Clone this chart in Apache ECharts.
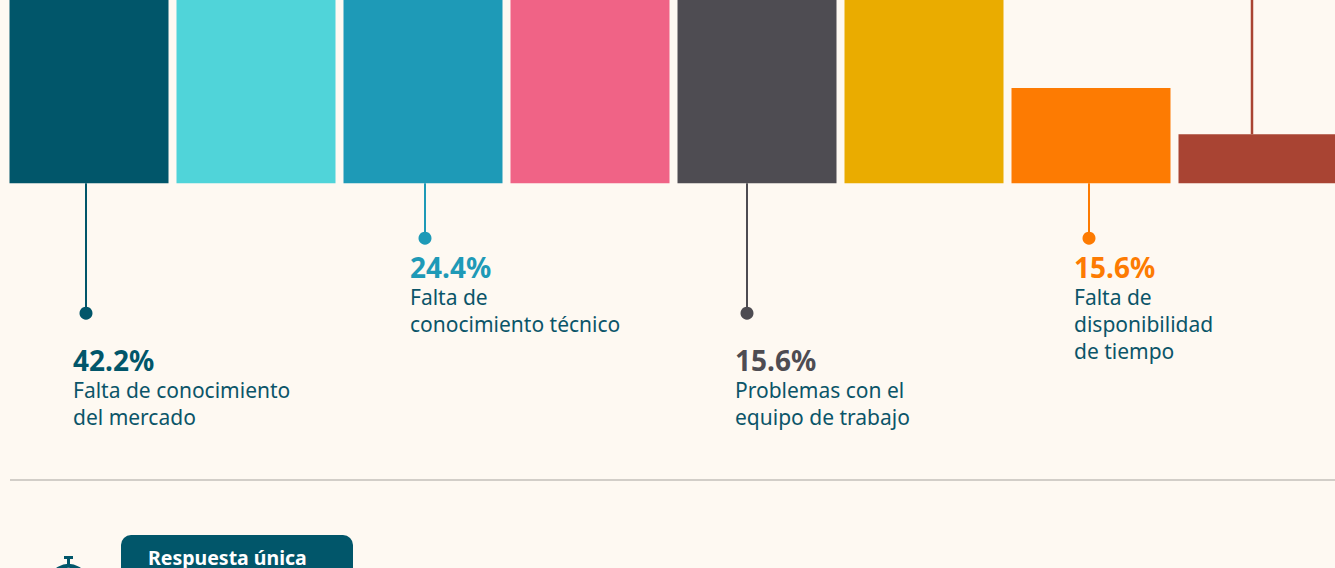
<!DOCTYPE html>
<html>
<head>
<meta charset="utf-8">
<style>
  html, body { margin: 0; padding: 0; background: #fef9f2; }
  #chart { width: 1335px; height: 568px; }
</style>
<script src="https://cdn.jsdelivr.net/npm/echarts@6/dist/echarts.min.js"></script>
</head>
<body>
<div id="chart"></div>
<script>
// datos
const categories = [
  "Falta de conocimiento del mercado",
  "Otra razón 1",
  "Falta de conocimiento técnico",
  "Otra razón 2",
  "Problemas con el equipo de trabajo",
  "Otra razón 3",
  "Falta de disponibilidad de tiempo",
  "Otra razón 4",
];
// alturas de barra: las seis primeras salen por arriba del recorte
const barValues = [42.2, 40, 38, 36, 34, 32, 15.6, 8];
const percentLabels = ["42.2%", null, "24.4%", null, "15.6%", null, "15.6%", null];
const descLabels = [
  "Falta de conocimiento\ndel mercado",
  null,
  "Falta de\nconocimiento técnico",
  null,
  "Problemas con el\nequipo de trabajo",
  null,
  "Falta de\ndisponibilidad\nde tiempo",
  null,
];

const colors = ["#01566a", "#50d4d9", "#1e9ab7", "#f06386", "#4e4c52", "#eaac00", "#fd7b02", "#a94433"];
const textColor = "#0b5569";
const font = "'Noto Sans', Lato, sans-serif";

// largo de la línea guía (px), hueco entre línea y texto, corrimientos horizontales
const leaderLen = [130, 0, 55, 0, 130, 0, 55, 0];
const labelGap = [47, 0, 29, 0, 47, 0, 29, 0];
const leaderShift = [-3, 0, 2, 0, -10, 0, -2, -6];
const labelDx = [-13, 0, -15, 0, -12, 0, -15, 0];

const myChart = echarts.init(document.getElementById("chart"), null, { renderer: "svg" });

const option = {
  backgroundColor: "#fef9f2",
  animation: false,
  grid: { left: 5.5, width: 1336, top: 0, bottom: 0, outerBoundsMode: "none" },
  xAxis: {
    type: "category",
    data: categories,
    show: false,
  },
  yAxis: {
    type: "value",
    min: -63,
    max: 30,
    show: false,
  },
  series: [
    {
      type: "bar",
      barWidth: 159,
      clip: true,
      data: barValues.map((v, i) => ({ value: v, itemStyle: { color: colors[i] } })),
    },
    {
      // líneas guía, puntos y etiquetas
      type: "custom",
      clip: false,
      data: categories.map((c, i) => [i, barValues[i]]),
      renderItem: (params, api) => {
        const i = params.dataIndex;
        const base = api.coord([i, 0]);
        const x = base[0] + leaderShift[i];
        const children = [];
        if (percentLabels[i]) {
          const dotY = base[1] + leaderLen[i];
          children.push(
            { type: "line", shape: { x1: x, y1: base[1], x2: x, y2: dotY }, style: { stroke: colors[i], lineWidth: 2 } },
            { type: "circle", shape: { cx: x, cy: dotY, r: 6.5 }, style: { fill: colors[i] } },
            {
              type: "text",
              x: x + labelDx[i],
              y: dotY + labelGap[i],
              style: {
                text: percentLabels[i],
                fill: colors[i],
                font: "bold 28px " + font,
                verticalAlign: "middle",
              },
            },
            {
              type: "text",
              x: x + labelDx[i],
              y: dotY + labelGap[i] + 16,
              style: {
                text: descLabels[i],
                fill: textColor,
                font: "21px " + font,
                lineHeight: 27,
                verticalAlign: "top",
              },
            }
          );
        } else if (i === categories.length - 1) {
          // la última barra lleva su línea hacia arriba
          const top = api.coord([i, api.value(1)]);
          children.push({
            type: "line",
            shape: { x1: x, y1: top[1], x2: x, y2: 0 },
            style: { stroke: colors[i], lineWidth: 2.5 },
          });
        }
        return { type: "group", children };
      },
    },
  ],
  graphic: [
    {
      type: "line",
      shape: { x1: 10, y1: 480, x2: 1335, y2: 480 },
      style: { stroke: "#d2cec8", lineWidth: 2 },
    },
    {
      // cronómetro
      type: "group",
      children: [
        { type: "rect", shape: { x: 64, y: 556, width: 9, height: 3 }, style: { fill: "#01566a" } },
        { type: "rect", shape: { x: 67, y: 558, width: 3, height: 6 }, style: { fill: "#01566a" } },
        { type: "circle", shape: { cx: 68.5, cy: 585, r: 19 }, style: { fill: "none", stroke: "#01566a", lineWidth: 4 } },
      ],
    },
    {
      type: "rect",
      shape: { x: 121, y: 535, width: 232, height: 60, r: 10 },
      style: { fill: "#01566a" },
    },
    {
      type: "text",
      x: 148,
      y: 557,
      style: {
        text: "Respuesta única",
        fill: "#ffffff",
        font: "bold 19.5px " + font,
        verticalAlign: "middle",
      },
    },
  ],
};

option && myChart.setOption(option);
</script>
</body>
</html>
